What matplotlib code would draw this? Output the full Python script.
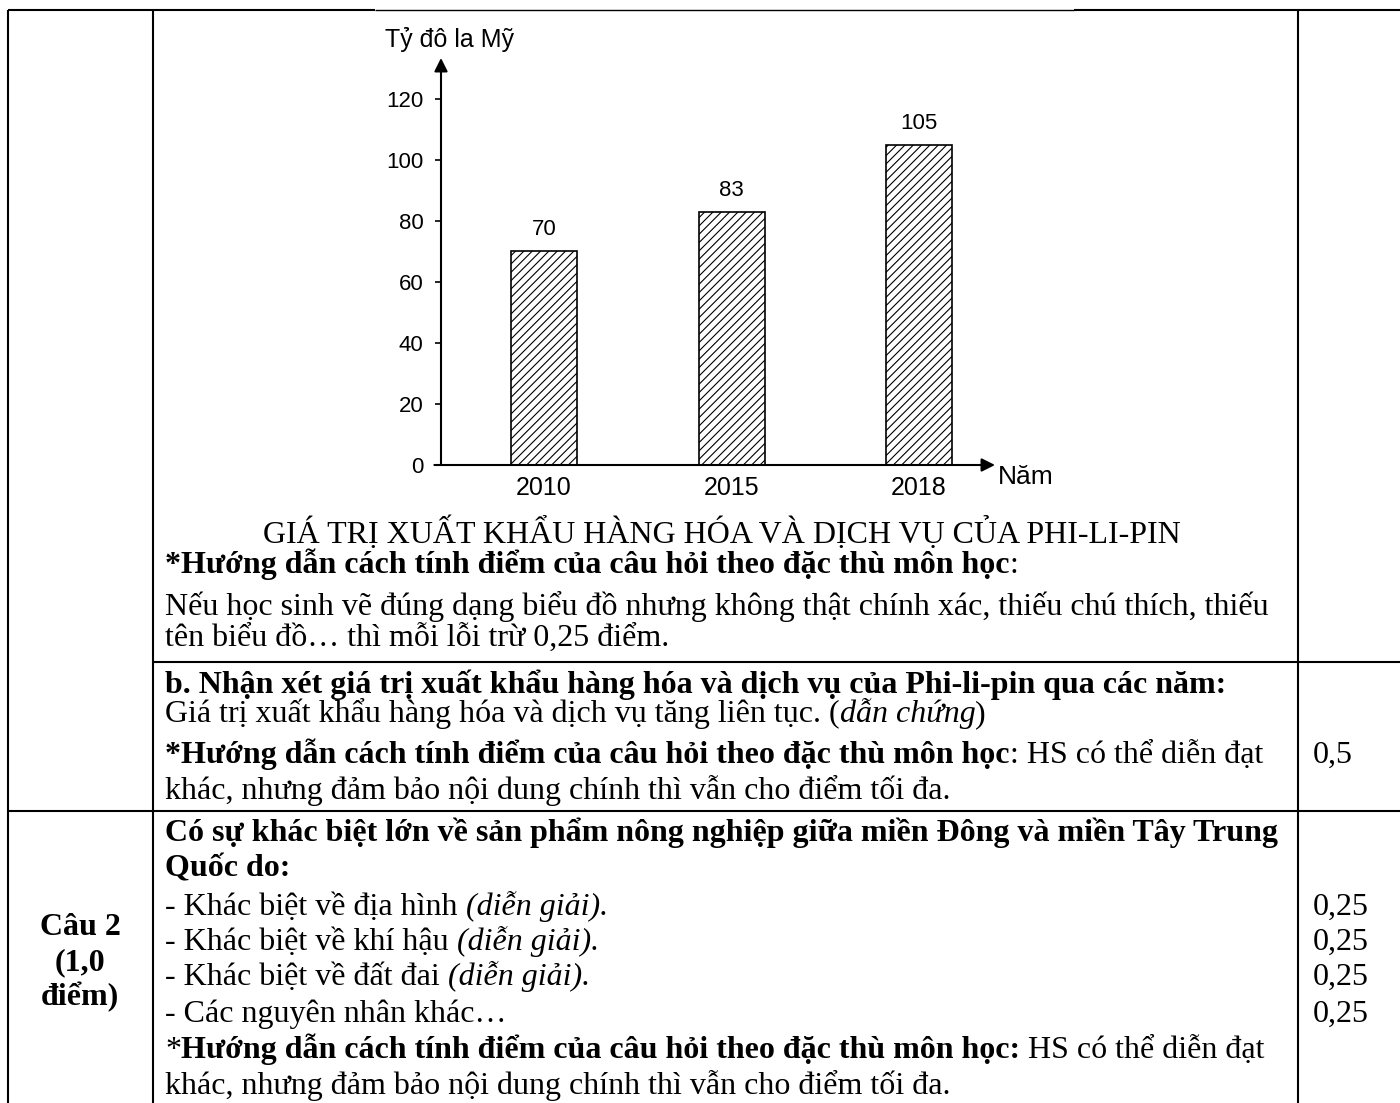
import matplotlib
matplotlib.use('Agg')
import matplotlib.pyplot as plt

# ---------------- data ----------------
years = ['2010', '2015', '2018']
values = [70, 83, 105]
yticks = [0, 20, 40, 60, 80, 100, 120]
y_axis_title = 'Tỷ đô la Mỹ'
x_axis_title = 'Năm'
chart_title = 'GIÁ TRỊ XUẤT KHẨU HÀNG HÓA VÀ DỊCH VỤ CỦA PHI-LI-PIN'

W, H = 1400, 1103
fig = plt.figure(figsize=(14, 11.03), dpi=100)
page = fig.add_axes([0, 0, 1, 1])
page.set_xlim(0, W)
page.set_ylim(H, 0)
page.axis('off')

SERIF = 'Liberation Serif'
SANS = 'Liberation Sans'
FS = 23

# ---------------- table lines ----------------
LW = 1.5
def hline(y, x0, x1, lw=LW):
    page.plot([x0, x1], [y, y], color='black', lw=lw, solid_capstyle='butt')
def vline(x, y0, y1, lw=LW):
    page.plot([x, x], [y0, y1], color='black', lw=lw, solid_capstyle='butt')

hline(10, 8, 375)
hline(10, 375, 1074, lw=1.0)
hline(10, 1074, 1400)
hline(662, 153, 1400)
hline(811, 8, 1400)
vline(8, 10, 1103)
vline(153, 10, 1103)
vline(1298, 10, 1103)

# ---------------- chart ----------------
ax_l, ax_r, ax_t, ax_b = 441, 995, 58, 465
ax = fig.add_axes([ax_l / W, 1 - ax_b / H, (ax_r - ax_l) / W, (ax_b - ax_t) / H])
ax.patch.set_alpha(0)
plt.rcParams['hatch.linewidth'] = 0.8
pos = list(range(len(years)))
bars = ax.bar(pos, values, width=0.352, color='white', edgecolor='black',
              hatch='////', linewidth=1.2, zorder=2)
ax.bar_label(bars, labels=[str(v) for v in values], padding=8,
             fontsize=16, family=SANS)
ax.set_ylim(0, 120 * (ax_b - ax_t) / (ax_b - 99))
ax.set_xlim(-(544 - ax_l) / 187.5, 2 + (ax_r - 919) / 187.5)
for s in ax.spines.values():
    s.set_visible(False)
ax.set_yticks(yticks)
ax.set_yticklabels([str(t) for t in yticks], family=SANS, fontsize=16)
ax.set_xticks(pos)
ax.set_xticklabels(years, family=SANS, fontsize=18)
ax.tick_params(axis='y', length=4.5, width=1.2, pad=8, direction='out')
ax.tick_params(axis='x', length=0, pad=8)
ax.annotate('', xy=(1, 0), xytext=(-0.012, 0), xycoords='axes fraction',
            arrowprops=dict(arrowstyle='-|>', color='black', lw=1.5,
                            mutation_scale=20, shrinkA=0, shrinkB=0))
ax.annotate('', xy=(0, 1), xytext=(0, 0), xycoords='axes fraction',
            arrowprops=dict(arrowstyle='-|>', color='black', lw=1.5,
                            mutation_scale=20, shrinkA=0, shrinkB=0))
page.text(385, 40, y_axis_title, family=SANS, fontsize=18, va='center', ha='left')
page.text(998, 477, x_axis_title, family=SANS, fontsize=19, va='center', ha='left')

# ---------------- text ----------------
renderer = fig.canvas.get_renderer()
STY = {'r': ('normal', 'normal'), 'b': ('bold', 'normal'), 'i': ('normal', 'italic')}

def width(s, st, size=FS):
    w, sl = STY[st]
    t = page.text(0, 0, '|' + s + '|', family=SERIF, fontsize=size, fontweight=w, fontstyle=sl)
    a = t.get_window_extent(renderer).width
    t.remove()
    t = page.text(0, 0, '||', family=SERIF, fontsize=size, fontweight=w, fontstyle=sl)
    b = t.get_window_extent(renderer).width
    t.remove()
    return a - b

def runs(x, y, parts, size=FS):
    for s, st in parts:
        w, sl = STY[st]
        page.text(x, y, s, family=SERIF, fontsize=size, fontweight=w, fontstyle=sl,
                  va='baseline', ha='left')
        x += width(s, st, size)

page.text(722, 543, chart_title, family=SERIF, fontsize=FS, ha='center', va='baseline')

X0 = 165
guide = '*Hướng dẫn cách tính điểm của câu hỏi theo đặc thù môn học'
runs(X0, 573, [(guide, 'b'), (':', 'r')])
runs(X0, 615, [('Nếu học sinh vẽ đúng dạng biểu đồ nhưng không thật chính xác, thiếu chú thích, thiếu', 'r')])
runs(X0, 646, [('tên biểu đồ… thì mỗi lỗi trừ 0,25 điểm.', 'r')])
runs(X0, 693, [('b. Nhận xét giá trị xuất khẩu hàng hóa và dịch vụ của Phi-li-pin qua các năm:', 'b')])
runs(X0, 722, [('Giá trị xuất khẩu hàng hóa và dịch vụ tăng liên tục. (', 'r'), ('dẫn chứng', 'i'), (')', 'r')])
runs(X0, 763, [(guide, 'b'), (': HS có thể diễn đạt', 'r')])
runs(X0, 799, [('khác, nhưng đảm bảo nội dung chính thì vẫn cho điểm tối đa.', 'r')])
runs(X0, 841, [('Có sự khác biệt lớn về sản phẩm nông nghiệp giữa miền Đông và miền Tây Trung', 'b')])
runs(X0, 876, [('Quốc do:', 'b')])
runs(X0, 915, [('- Khác biệt về địa hình ', 'r'), ('(diễn giải).', 'i')])
runs(X0, 950, [('- Khác biệt về khí hậu ', 'r'), ('(diễn giải).', 'i')])
runs(X0, 985, [('- Khác biệt về đất đai ', 'r'), ('(diễn giải).', 'i')])
runs(X0, 1022, [('- Các nguyên nhân khác…', 'r')])
runs(X0, 1058, [('*', 'r'), (guide[1:] + ':', 'b'), (' HS có thể diễn đạt', 'r')])
runs(X0, 1094, [('khác, nhưng đảm bảo nội dung chính thì vẫn cho điểm tối đa.', 'r')])

runs(1313, 763, [('0,5', 'r')])
for yy in (915, 950, 985, 1022):
    runs(1313, yy, [('0,25', 'r')])

for yy, s in ((935, 'Câu 2'), (970, '(1,0'), (1005, 'điểm)')):
    page.text(80, yy, s, family=SERIF, fontsize=FS, fontweight='bold', ha='center', va='baseline')

fig.savefig('out.png', dpi=100)
